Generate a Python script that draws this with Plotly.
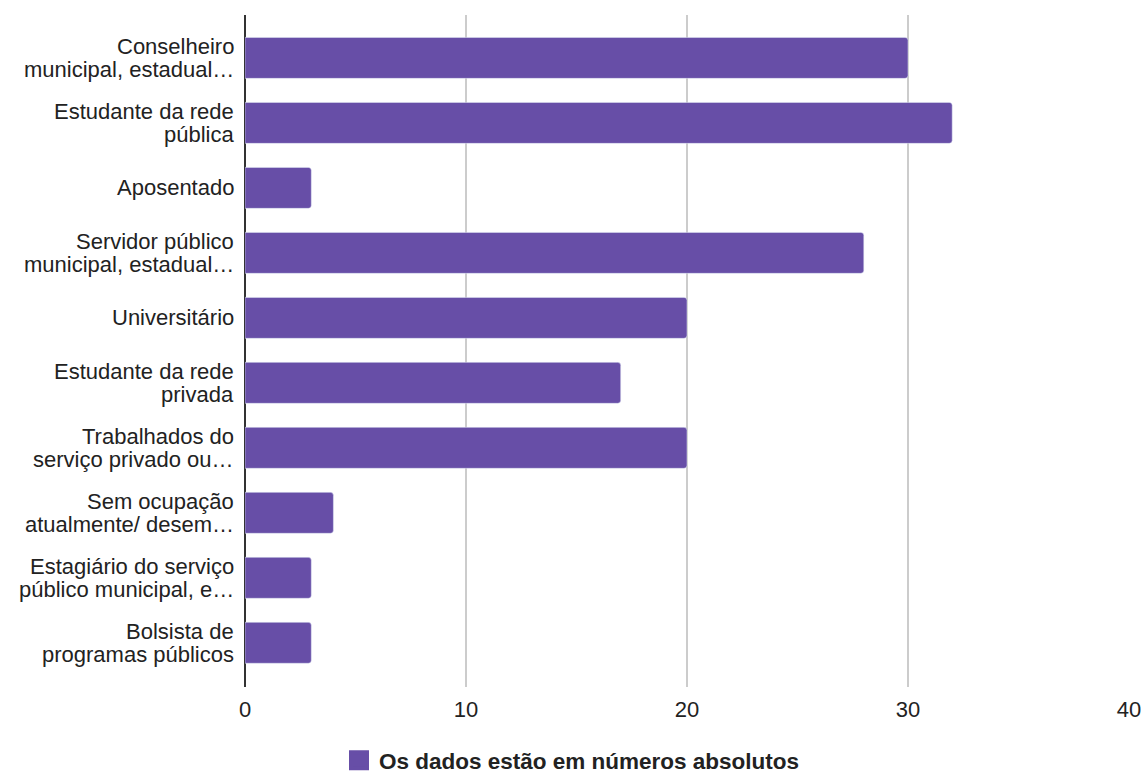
import plotly.graph_objects as go

categories = [
    "Conselheiro<br>municipal, estadual…",
    "Estudante da rede<br>pública",
    "Aposentado",
    "Servidor público<br>municipal, estadual…",
    "Universitário",
    "Estudante da rede<br>privada",
    "Trabalhados do<br>serviço privado ou…",
    "Sem ocupação<br>atualmente/ desem…",
    "Estagiário do serviço<br>público municipal, e…",
    "Bolsista de<br>programas públicos",
]
values = [30, 32, 3, 28, 20, 17, 20, 4, 3, 3]
series_name = "Os dados estão em números absolutos"
x_ticks = [0, 10, 20, 30, 40]

color = "#674ea7"
text_color = "#222222"
font_family = "Liberation Sans, Arial, sans-serif"
idx = list(range(len(categories)))

fig = go.Figure()
fig.add_trace(go.Bar(
    x=values, y=idx, orientation="h", marker_color=color,
    width=0.63, showlegend=False, name=series_name,
))
fig.add_trace(go.Scatter(
    x=[None], y=[None], mode="markers", name=series_name,
    marker=dict(symbol="square", size=16, color=color,
                line=dict(color=color, width=4)),
))

# category labels: one annotation per line, tight line spacing (like the reference)
line_step = 0.345  # in category units
for i, label in zip(idx, categories):
    lines = label.split("<br>")
    n = len(lines)
    for k, line in enumerate(lines):
        fig.add_annotation(
            xref="paper", yref="y", x=0, y=i + (k - (n - 1) / 2) * line_step,
            text=line, showarrow=False, xanchor="right", yanchor="middle",
            xshift=-9, font=dict(size=22, color=text_color, family=font_family),
        )

fig.update_layout(
    width=1144, height=773,
    margin=dict(l=245, r=15, t=15, b=86),
    plot_bgcolor="white", paper_bgcolor="white",
    font=dict(family=font_family, size=22, color=text_color),
    barcornerradius=3,
    showlegend=True,
    legend=dict(
        orientation="h", xref="container", yref="container",
        x=0.5, xanchor="center", y=0.016, yanchor="middle",
        font=dict(size=22.5, color=text_color, weight="bold"),
    ),
    xaxis=dict(
        range=[0, 40], tickvals=x_ticks, showgrid=True, gridcolor="#cccccc",
        gridwidth=1.5, zeroline=True, zerolinecolor="#333333", zerolinewidth=1.5,
        ticks="outside", ticklen=3, tickcolor="rgba(0,0,0,0)", showline=False,
        automargin=False,
    ),
    yaxis=dict(
        range=[9.68, -0.66], tickvals=idx, showticklabels=False,
        showgrid=False, zeroline=False, showline=False, automargin=False,
    ),
)

fig.write_html(
    "out.html",
    config={"displayModeBar": False},
    post_script="document.body.style.margin='0';document.body.style.overflow='hidden';",
)
